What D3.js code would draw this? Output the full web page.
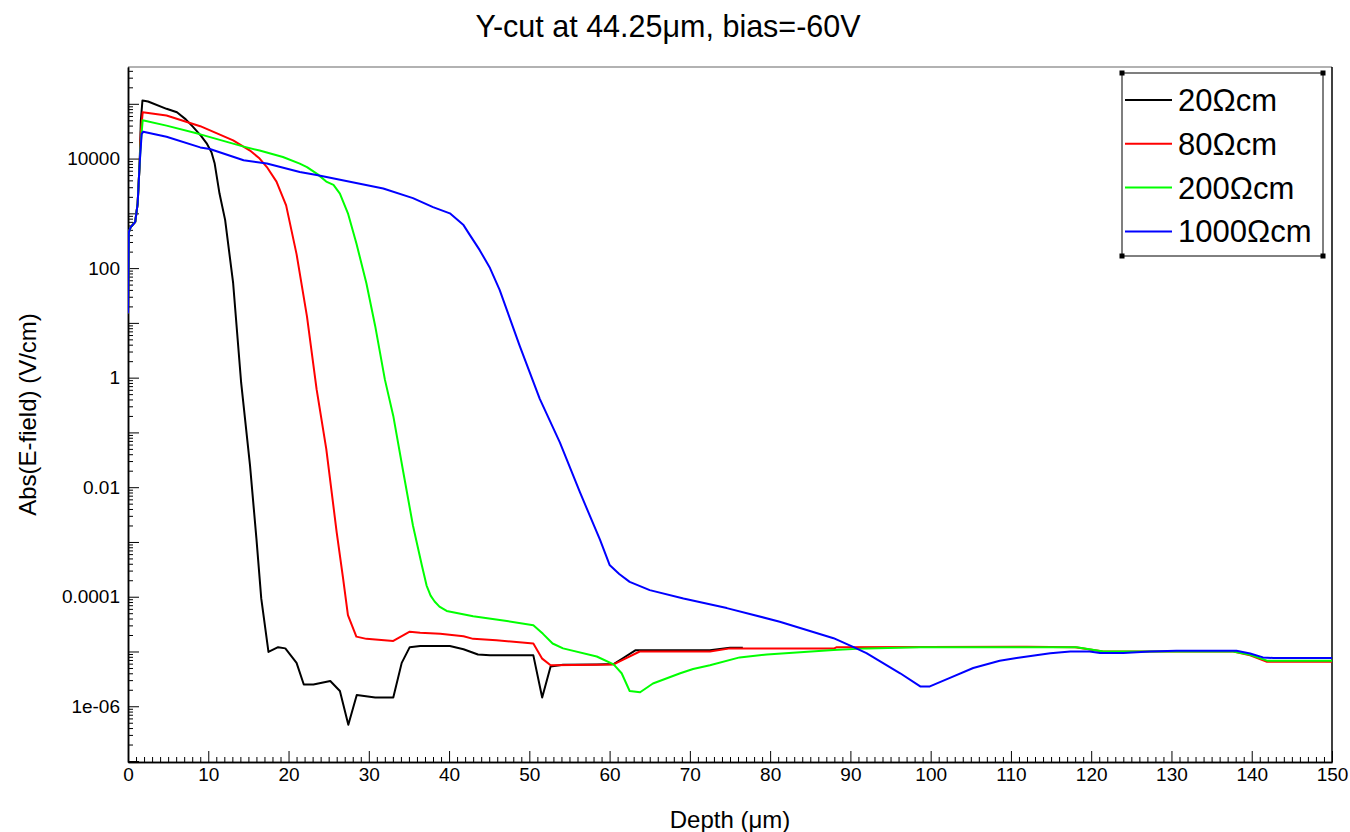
<!DOCTYPE html>
<html>
<head>
<meta charset="utf-8">
<script src="https://cdn.jsdelivr.net/npm/d3@7"></script>
<style>
  body { margin: 0; background: #fff; }
  svg { display: block; font-family: "Liberation Sans", Arial, sans-serif; }
  .axis path { stroke: #000; stroke-width: 1.5; }
  .axis line { stroke: #000; stroke-width: 1; }
  .axis text { font-size: 19px; fill: #000; }
</style>
</head>
<body>
<div id="chart"></div>
<script>
// x = depth (µm), y = |E| (V/cm)
const series20 = [
  [0, 15], [0.1, 450], [0.3, 550], [0.9, 700], [1.2, 1500], [1.45, 8000], [1.6, 5e4], [1.8, 1.15e5],
  [2.5, 1.1e5], [4.8, 8.1e4], [6.1, 7.0e4], [7.2, 5.2e4], [8.1, 3.8e4], [9.1, 2.6e4], [9.8, 1.9e4],
  [10.4, 1.3e4], [10.8, 8.1e3], [11.4, 2.3e3], [12.1, 760], [13.1, 53], [14.1, 0.8], [15.2, 0.025],
  [16.0, 0.00115], [16.6, 9.3e-5], [17.5, 9.8e-6],
  [18.7, 1.2e-5], [19.6, 1.14e-5], [21.0, 6.2e-6], [21.9, 2.5e-6], [23.1, 2.5e-6], [25.2, 2.9e-6],
  [26.4, 1.9e-6], [27.45, 4.6e-7], [28.5, 1.6e-6], [30.8, 1.45e-6], [33.05, 1.45e-6], [34.1, 6.2e-6],
  [35.1, 1.2e-5], [36.4, 1.26e-5], [40.1, 1.26e-5], [41.8, 1.1e-5], [43.6, 8.8e-6], [45.1, 8.5e-6],
  [50.5, 8.5e-6], [51.6, 1.45e-6], [52.65, 5.3e-6], [54.2, 5.7e-6], [58.4, 5.8e-6], [60.5, 5.9e-6],
  [61.7, 7.6e-6], [63.2, 1.05e-5], [72.5, 1.05e-5], [75, 1.17e-5], [76.6, 1.17e-5]
];
const series80 = [
  [0, 15], [0.1, 450], [0.3, 550], [0.9, 700], [1.2, 1500], [1.45, 8000], [1.6, 3e4], [1.83, 7.0e4],
  [4.8, 6.1e4], [9.0, 3.9e4], [13.1, 2.15e4], [15.2, 1.4e4], [16.4, 1.0e4], [17.3, 7e3], [18.5, 3.8e3],
  [19.7, 1.4e3], [21.0, 180], [22.3, 13], [23.5, 0.61], [24.7, 0.05], [26.0, 0.0015], [26.8, 2.15e-4],
  [27.4, 4.6e-5], [28.45, 1.87e-5], [29.7, 1.7e-5], [33.05, 1.56e-5], [35.1, 2.3e-5], [36.4, 2.2e-5],
  [38.9, 2.1e-5], [41.8, 1.9e-5], [43.0, 1.7e-5], [45.9, 1.6e-5], [50.5, 1.4e-5], [51.6, 7.4e-6],
  [52.65, 5.6e-6], [58.4, 5.7e-6], [60.5, 5.8e-6], [61.7, 7.1e-6], [63.75, 1.0e-5], [72.5, 1.0e-5],
  [75, 1.14e-5], [88, 1.14e-5], [88.3, 1.2e-5], [112, 1.22e-5], [118, 1.2e-5], [121.5, 1.0e-5],
  [137.7, 1.0e-5], [139.8, 8.5e-6], [141.9, 6.5e-6], [150, 6.5e-6]
];
const series200 = [
  [0, 15], [0.1, 450], [0.3, 550], [0.9, 700], [1.2, 1500], [1.45, 8000], [1.6, 2e4], [1.83, 5.0e4],
  [4.8, 4.0e4], [8.9, 2.8e4], [14.3, 1.67e4], [16.4, 1.4e4], [19.3, 1.07e4], [21.4, 8.1e3], [22.3, 7.0e3],
  [23.6, 5.2e3], [24.7, 3.8e3], [25.6, 3.3e3], [26.4, 2.3e3], [27.4, 1000], [28.45, 285], [29.7, 53],
  [30.8, 8.7], [32.0, 0.93], [33.05, 0.2], [34.3, 0.0187], [35.5, 0.002], [36.6, 3.8e-4], [37.2, 1.6e-4],
  [37.7, 1.05e-4], [38.2, 8.2e-5], [38.8, 6.6e-5], [39.7, 5.5e-5], [43.0, 4.4e-5], [47.2, 3.6e-5],
  [50.5, 3.0e-5], [51.7, 2.1e-5], [52.9, 1.4e-5], [54.2, 1.14e-5], [58.4, 8.1e-6], [60.5, 5.8e-6],
  [61.5, 4.0e-6], [62.5, 1.9e-6], [63.8, 1.8e-6], [65.4, 2.6e-6], [68.8, 4.0e-6], [70.4, 4.8e-6],
  [72.5, 5.6e-6], [76.2, 7.8e-6], [79.6, 8.8e-6], [87.9, 1.07e-5], [92, 1.14e-5], [98.7, 1.2e-5],
  [118.2, 1.2e-5], [121.5, 1.0e-5], [137.7, 1.0e-5], [139.8, 8.7e-6], [141.9, 6.8e-6], [150, 6.8e-6]
];
const series1000 = [
  [0, 15], [0.1, 450], [0.3, 550], [0.9, 700], [1.2, 1500], [1.45, 8000], [1.7, 2.8e4], [1.9, 3.1e4],
  [4.8, 2.5e4], [9.0, 1.6e4], [10.2, 1.5e4], [14.4, 9.3e3], [17.3, 8.1e3], [21.4, 5.7e3], [23.5, 5.0e3],
  [31.8, 2.85e3], [35.5, 1.9e3], [38.0, 1.3e3], [40.1, 1000], [41.8, 610], [42.6, 400], [43.8, 215],
  [45.1, 100], [46.3, 40], [48.8, 3.8], [51.3, 0.41], [53.8, 0.066], [56.3, 0.0081], [58.8, 0.0011],
  [60.0, 3.8e-4], [61.2, 2.6e-4], [62.5, 1.87e-4], [65, 1.32e-4], [69.2, 9.3e-5], [74.6, 6.2e-5],
  [81.2, 3.5e-5], [87.9, 1.75e-5], [90.4, 1.2e-5], [92, 9.3e-6], [96.2, 4.0e-6], [98.7, 2.3e-6],
  [99.9, 2.3e-6], [102.4, 3.3e-6], [105.3, 5e-6], [108.6, 6.8e-6], [110.7, 7.6e-6], [114.9, 9.3e-6],
  [117.4, 1e-5], [119.8, 1e-5], [121.1, 9.4e-6], [124, 9.4e-6], [127.3, 1e-5], [130.6, 1.03e-5],
  [138.1, 1.03e-5], [139.8, 9.2e-6], [141.4, 7.8e-6], [142.7, 7.6e-6], [150, 7.6e-6]
];

const seriesNames = ["20Ωcm", "80Ωcm", "200Ωcm", "1000Ωcm"];
const seriesColors = ["#000000", "#ff0000", "#00ff00", "#0000ff"];
const seriesData = [series20, series80, series200, series1000];

const xTickValues = [0, 10, 20, 30, 40, 50, 60, 70, 80, 90, 100, 110, 120, 130, 140, 150];
const yLabelValues = [1e-6, 1e-4, 1e-2, 1, 100, 1e4];
const yTickLabels = ["1e-06", "0.0001", "0.01", "1", "100", "10000"];

const W = 1350, H = 832;
const margin = { top: 67, right: 18, bottom: 70, left: 128 };
const width = W - margin.left - margin.right;
const height = H - margin.top - margin.bottom;

const svg = d3.select("#chart").append("svg").attr("width", W).attr("height", H);
const g = svg.append("g").attr("transform", `translate(${margin.left},${margin.top})`);

const x = d3.scaleLinear().domain([0, 150]).range([0, width]);
const y = d3.scaleLog().domain([9.6e-8, 4.7e5]).range([height, 0]);

// minor ticks
const xMinor = d3.range(0, 151, 1).filter((v) => v % 10 !== 0);
const yMajor = d3.range(-7, 6).map((k) => Math.pow(10, k));
const yMinor = [];
d3.range(-8, 6).forEach((k) => {
  for (let m = 2; m <= 9; m++) {
    const v = m * Math.pow(10, k);
    if (v >= y.domain()[0] && v <= y.domain()[1]) yMinor.push(v);
  }
});

// frame: top grey, right black
g.append("line").attr("x1", 0).attr("x2", width).attr("y1", 0).attr("y2", 0)
  .attr("stroke", "#666").attr("stroke-width", 1.2);
g.append("line").attr("x1", width).attr("x2", width).attr("y1", 0).attr("y2", height)
  .attr("stroke", "#000").attr("stroke-width", 1.5);

g.append("g").attr("class", "axis").attr("transform", `translate(0,${height})`)
  .call(d3.axisBottom(x).tickValues(xMinor).tickSize(-5).tickFormat("").tickSizeOuter(0));
g.append("g").attr("class", "axis").attr("transform", `translate(0,${height})`)
  .call(d3.axisBottom(x).tickValues(xTickValues).tickSize(-11).tickPadding(6).tickFormat(d3.format("d")).tickSizeOuter(0));

g.append("g").attr("class", "axis")
  .call(d3.axisLeft(y).tickValues(yMinor).tickSize(-5).tickFormat("").tickSizeOuter(0));
g.append("g").attr("class", "axis")
  .call(d3.axisLeft(y).tickValues(yMajor).tickSize(-11).tickPadding(8)
    .tickFormat((v) => {
      const i = yLabelValues.findIndex((u) => Math.abs(Math.log10(u) - Math.log10(v)) < 1e-6);
      return i >= 0 ? yTickLabels[i] : "";
    })
    .tickSizeOuter(0));

g.selectAll(".axis .domain").attr("stroke-width", 1.5);

// curves
g.append("clipPath").attr("id", "clip").append("rect")
  .attr("width", width).attr("height", height);

const line = d3.line().x((d) => x(d[0])).y((d) => y(d[1]));

g.append("g").attr("clip-path", "url(#clip)")
  .selectAll("path").data(seriesData).enter().append("path")
  .attr("d", line)
  .attr("fill", "none")
  .attr("stroke", (d, i) => seriesColors[i])
  .attr("stroke-width", 2)
  .attr("stroke-linejoin", "round");

// title + axis labels
svg.append("text").attr("x", 668).attr("y", 37).attr("text-anchor", "middle")
  .attr("font-size", 30.5).text("Y-cut at 44.25μm, bias=-60V");
svg.append("text").attr("x", margin.left + width / 2).attr("y", 828).attr("text-anchor", "middle")
  .attr("font-size", 24).text("Depth (μm)");
svg.append("text").attr("transform", `translate(36,${margin.top + height / 2}) rotate(-90)`)
  .attr("text-anchor", "middle").attr("font-size", 24).text("Abs(E-field) (V/cm)");

// legend
const lg = svg.append("g");
const lx0 = 1122, ly0 = 73, lx1 = 1323, ly1 = 256;
lg.append("rect").attr("x", lx0).attr("y", ly0).attr("width", lx1 - lx0).attr("height", ly1 - ly0)
  .attr("fill", "#fff").attr("stroke", "#000").attr("stroke-width", 1);
[[lx0, ly0], [lx1, ly0], [lx0, ly1], [lx1, ly1]].forEach(([cx, cy]) => {
  lg.append("rect").attr("x", cx - 2.5).attr("y", cy - 2.5).attr("width", 5).attr("height", 5).attr("fill", "#000");
});
seriesNames.forEach((name, i) => {
  const ly = 100 + i * 43.8;
  lg.append("line").attr("x1", 1125).attr("x2", 1172).attr("y1", ly).attr("y2", ly)
    .attr("stroke", seriesColors[i]).attr("stroke-width", 2);
  lg.append("text").attr("x", 1178).attr("y", ly + 11).attr("font-size", 31).text(name);
});
</script>
</body>
</html>
